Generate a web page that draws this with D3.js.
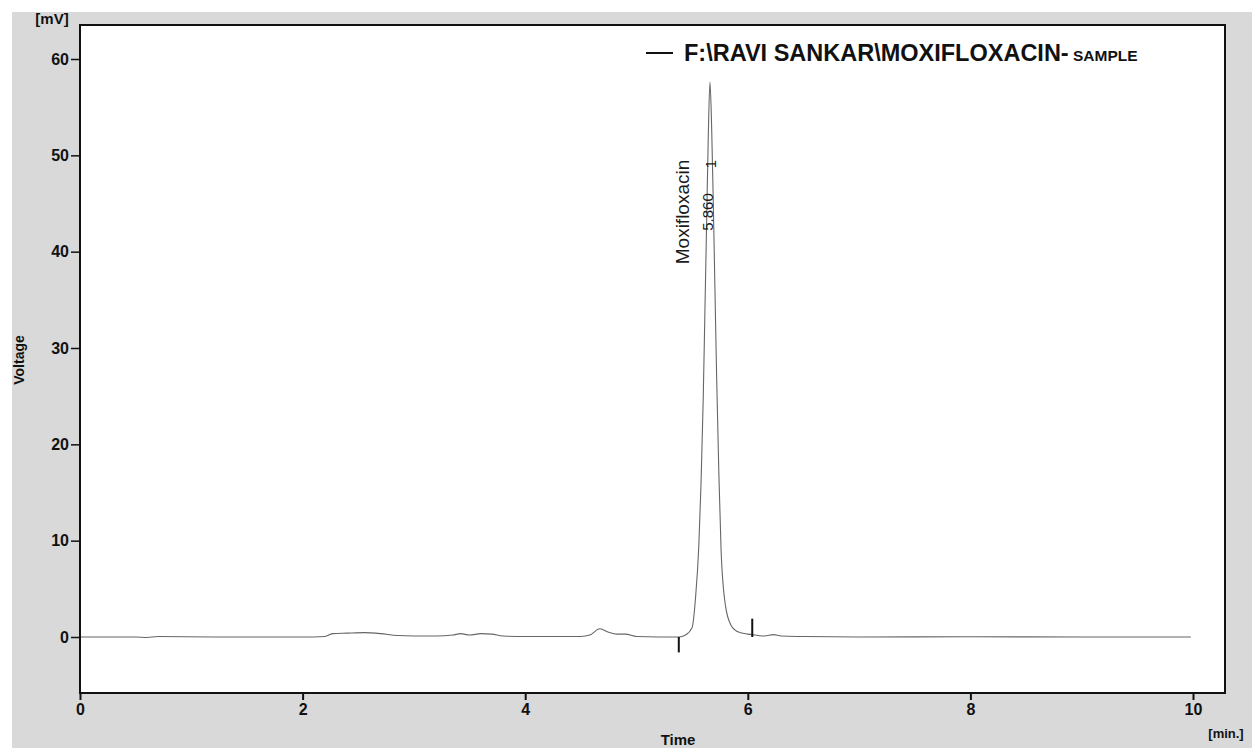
<!DOCTYPE html>
<html>
<head>
<meta charset="utf-8">
<script src="https://cdn.jsdelivr.net/npm/d3@7"></script>
<style>
  html, body { margin: 0; padding: 0; background: #ffffff; }
  svg { display: block; }
  text { font-family: "Liberation Sans", Arial, sans-serif; }
</style>
</head>
<body>
<svg id="chart" width="1252" height="748"></svg>
<script>
// Chromatogram trace: retention time (min) and detector signal (mV)
const times = [
  0.00, 0.50, 0.60, 0.70, 1.20, 2.10, 2.20, 2.27, 2.40, 2.55, 2.70, 2.85,
  3.00, 3.20, 3.35, 3.42, 3.50, 3.60, 3.70, 3.80, 4.00, 4.30, 4.50, 4.58,
  4.67, 4.75, 4.82, 4.90, 5.00, 5.20, 5.38, 5.44, 5.50, 5.53, 5.56, 5.58,
  5.60, 5.615, 5.63, 5.645, 5.66, 5.675, 5.69, 5.705, 5.72, 5.74, 5.76,
  5.80, 5.85, 5.90, 6.00, 6.07, 6.15, 6.23, 6.30, 6.50, 7.00, 8.00, 9.00, 9.98
];
const volts = [
  0.00, 0.00, -0.05, 0.05, 0.00, 0.00, 0.05, 0.35, 0.40, 0.45, 0.35, 0.15,
  0.10, 0.10, 0.20, 0.35, 0.20, 0.35, 0.30, 0.10, 0.05, 0.05, 0.05, 0.20,
  0.85, 0.50, 0.30, 0.30, 0.05, 0.00, 0.00, 0.20, 1.00, 4.00, 9.50, 16.0,
  25.0, 34.0, 43.0, 52.0, 57.6, 53.0, 45.0, 36.0, 27.0, 17.0, 9.00,
  3.20, 1.20, 0.60, 0.30, 0.20, 0.10, 0.25, 0.10, 0.05, 0.00, 0.02, 0.00, 0.00
];

// Integration marks (peak start / end) and peak annotation
const peakStart = { t: 5.38, v: -1.6 };
const peakEnd   = { t: 6.04, v: 1.9 };
const peakName  = "Moxifloxacin";
const peakTimeLabel = "5.860";
const peakNumber = "1";

// Axis ticks and labels
const xTicks = [0, 2, 4, 6, 8, 10];
const yTicks = [0, 10, 20, 30, 40, 50, 60];
const legendMain = "F:\\RAVI SANKAR\\MOXIFLOXACIN-";
const legendTail = " SAMPLE";

const svg = d3.select("#chart");
const W = 1252, H = 748;
const plot = { left: 80, right: 1225, top: 25, bottom: 693 };

// Grey panel behind the plot
svg.append("rect")
  .attr("x", 12).attr("y", 12)
  .attr("width", W - 12).attr("height", H - 12)
  .attr("fill", "#d9d9d9");

const x = d3.scaleLinear()
  .domain([0, 10])
  .range([80, 1193]);
const y = d3.scaleLinear()
  .domain([0, 60])
  .range([637, 59]);

// Plot area
svg.append("rect")
  .attr("x", plot.left).attr("y", plot.top)
  .attr("width", plot.right - plot.left)
  .attr("height", plot.bottom - plot.top)
  .attr("fill", "#ffffff");

// Trace
const line = d3.line()
  .x((d, i) => x(times[i]))
  .y((d, i) => y(volts[i]))
  .curve(d3.curveMonotoneX);

svg.append("path")
  .datum(times)
  .attr("d", line)
  .attr("fill", "none")
  .attr("stroke", "#666")
  .attr("stroke-width", 1.1);

// Peak start / end integration marks
[peakStart, peakEnd].forEach(m => {
  svg.append("line")
    .attr("x1", x(m.t)).attr("x2", x(m.t))
    .attr("y1", y(0)).attr("y2", y(m.v))
    .attr("stroke", "#111")
    .attr("stroke-width", 2);
});

// Peak annotation (rotated labels at the apex)
const apexIdx = d3.maxIndex(volts);
const apexX = x(times[apexIdx]);

svg.append("text")
  .attr("transform", `translate(${apexX - 21},212) rotate(-90)`)
  .attr("text-anchor", "middle")
  .attr("font-size", 19)
  .attr("fill", "#1a1a1a")
  .text(peakName);

svg.append("text")
  .attr("transform", `translate(${apexX + 3},212) rotate(-90)`)
  .attr("text-anchor", "middle")
  .attr("font-size", 15)
  .attr("fill", "#1a1a1a")
  .text(peakTimeLabel);

svg.append("text")
  .attr("transform", `translate(${apexX + 6},164) rotate(-90)`)
  .attr("text-anchor", "middle")
  .attr("font-size", 15)
  .attr("fill", "#1a1a1a")
  .text(peakNumber);

// Frame
svg.append("rect")
  .attr("x", plot.left).attr("y", plot.top)
  .attr("width", plot.right - plot.left)
  .attr("height", plot.bottom - plot.top)
  .attr("fill", "none")
  .attr("stroke", "#111")
  .attr("stroke-width", 2);

// Axes
const xAxis = d3.axisBottom(x).tickValues(xTicks).tickSize(7).tickPadding(4);
const gx = svg.append("g")
  .attr("transform", `translate(0,${plot.bottom})`)
  .call(xAxis);
gx.select(".domain").remove();
gx.selectAll(".tick line").attr("stroke", "#111").attr("stroke-width", 2);
gx.selectAll(".tick text")
  .attr("font-size", 16).attr("font-weight", "bold")
  .attr("fill", "#111")
  .attr("font-family", "Liberation Sans, Arial, sans-serif");

const yAxis = d3.axisLeft(y).tickValues(yTicks).tickSize(9).tickPadding(2);
const gy = svg.append("g")
  .attr("transform", `translate(${plot.left},0)`)
  .call(yAxis);
gy.select(".domain").remove();
gy.selectAll(".tick line").attr("stroke", "#111").attr("stroke-width", 1.5);
gy.selectAll(".tick text")
  .attr("font-size", 16).attr("font-weight", "bold")
  .attr("fill", "#111")
  .attr("font-family", "Liberation Sans, Arial, sans-serif");

// Axis titles and units
svg.append("text")
  .attr("x", 52).attr("y", 24)
  .attr("text-anchor", "middle")
  .attr("font-size", 15).attr("font-weight", "bold")
  .attr("fill", "#111")
  .text("[mV]");

svg.append("text")
  .attr("transform", "translate(24,360) rotate(-90)")
  .attr("text-anchor", "middle")
  .attr("font-size", 14).attr("font-weight", "bold")
  .attr("fill", "#111")
  .text("Voltage");

svg.append("text")
  .attr("x", 678).attr("y", 745)
  .attr("text-anchor", "middle")
  .attr("font-size", 15).attr("font-weight", "bold")
  .attr("fill", "#111")
  .text("Time");

svg.append("text")
  .attr("x", 1226).attr("y", 738)
  .attr("text-anchor", "middle")
  .attr("font-size", 13).attr("font-weight", "bold")
  .attr("fill", "#111")
  .text("[min.]");

// Legend
svg.append("line")
  .attr("x1", 646).attr("x2", 673)
  .attr("y1", 53).attr("y2", 53)
  .attr("stroke", "#111").attr("stroke-width", 2);

const leg = svg.append("text")
  .attr("x", 684).attr("y", 61)
  .attr("font-weight", "bold")
  .attr("fill", "#111");
leg.append("tspan").attr("font-size", 23.5).text(legendMain);
leg.append("tspan").attr("font-size", 15.5).text(legendTail);
</script>
</body>
</html>
